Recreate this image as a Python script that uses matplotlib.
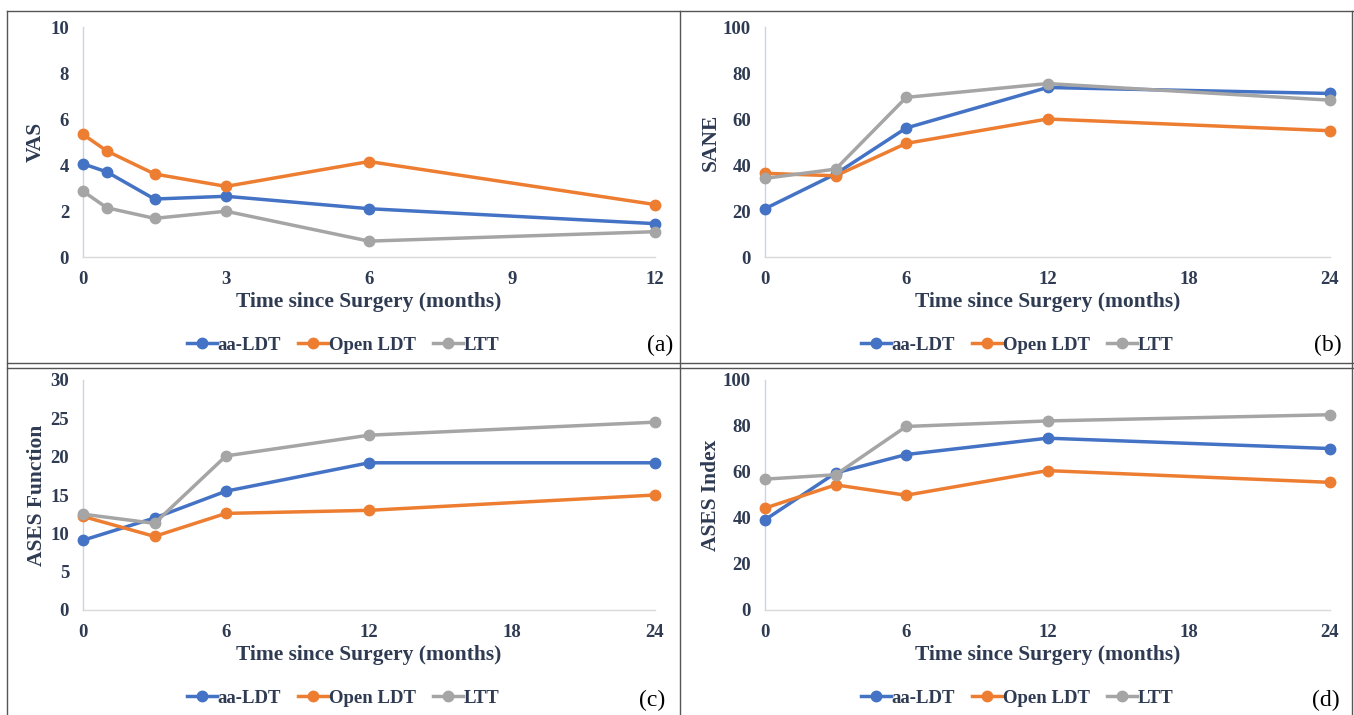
import numpy as np
import matplotlib
matplotlib.use("Agg")
import matplotlib.pyplot as plt
from matplotlib.lines import Line2D

# ---- data ----
series_names = ["aa-LDT", "Open LDT", "LTT"]
colors = ["#4472C4", "#ED7D31", "#A5A5A5"]

vas_time = [0, 0.5, 1.5, 3, 6, 12]
vas_aa = [4.05, 3.70, 2.52, 2.64, 2.10, 1.45]
vas_open = [5.33, 4.61, 3.61, 3.07, 4.15, 2.28]
vas_ltt = [2.86, 2.14, 1.68, 1.99, 0.69, 1.10]

time_24 = [0, 3, 6, 12, 24]
sane_aa = [21.0, 36.1, 56.1, 73.7, 71.1]
sane_open = [36.4, 35.3, 49.4, 60.0, 54.9]
sane_ltt = [34.2, 38.2, 69.4, 75.4, 68.2]

func_aa = [9.1, 12.0, 15.5, 19.2, 19.2]
func_open = [12.2, 9.6, 12.6, 13.0, 15.0]
func_ltt = [12.5, 11.3, 20.1, 22.8, 24.5]

index_aa = [39.2, 59.6, 67.6, 74.7, 70.2]
index_open = [44.3, 54.4, 49.9, 60.6, 55.5]
index_ltt = [56.9, 58.8, 79.8, 82.2, 84.9]

panels = [
    dict(t=vas_time, ys=[vas_aa, vas_open, vas_ltt], ylabel="VAS",
         xticks=[0, 3, 6, 9, 12], yticks=[0, 2, 4, 6, 8, 10], tag="(a)"),
    dict(t=time_24, ys=[sane_aa, sane_open, sane_ltt], ylabel="SANE",
         xticks=[0, 6, 12, 18, 24], yticks=[0, 20, 40, 60, 80, 100], tag="(b)"),
    dict(t=time_24, ys=[func_aa, func_open, func_ltt], ylabel="ASES Function",
         xticks=[0, 6, 12, 18, 24], yticks=[0, 5, 10, 15, 20, 25, 30], tag="(c)"),
    dict(t=time_24, ys=[index_aa, index_open, index_ltt], ylabel="ASES Index",
         xticks=[0, 6, 12, 18, 24], yticks=[0, 20, 40, 60, 80, 100], tag="(d)"),
]

W, H = 1354, 715
txt_col = "#2F3B52"
serif = ["Liberation Serif", "DejaVu Serif"]

fig = plt.figure(figsize=(W / 100, H / 100), dpi=100)

# pixel boxes for axes: (left, right, top, bottom)
boxes = [(83, 655, 27, 257), (765, 1330, 27, 257),
         (83, 655, 380, 610), (765, 1330, 380, 610)]
ylab_x = [36, 711, 37, 711]
legend_pos = [(343, 345), (1017, 345), (343, 698), (1017, 698)]
tag_pos = [(660, 345), (1328, 345), (652, 700), (1326, 700)]

for i, p in enumerate(panels):
    l, r, t, b = boxes[i]
    ax = fig.add_axes([l / W, 1 - b / H, (r - l) / W, (b - t) / H])
    for y, c in zip(p["ys"], colors):
        ax.plot(p["t"], y, color=c, lw=2.5, marker="o", ms=7.5, clip_on=False, zorder=3)
    ax.set_xlim(p["xticks"][0], p["xticks"][-1])
    ax.set_ylim(p["yticks"][0], p["yticks"][-1])
    ax.set_xticks(p["xticks"])
    ax.set_yticks(p["yticks"])
    ax.tick_params(length=0, pad=10, labelsize=13.5, labelcolor=txt_col)
    for lab in ax.get_xticklabels() + ax.get_yticklabels():
        lab.set_fontfamily(serif)
        lab.set_fontweight("bold")
    ax.spines["top"].set_visible(False)
    ax.spines["right"].set_visible(False)
    ax.spines["left"].set_color("#CBD3E3")
    ax.spines["bottom"].set_color("#D9D9D9")
    ax.spines["left"].set_linewidth(1)
    ax.spines["bottom"].set_linewidth(1)

    ax.set_xlabel("Time since Surgery (months)", fontsize=15.5, fontweight="bold",
                  family=serif, color=txt_col, va="center")
    ax.xaxis.set_label_coords(0.5, -(302 - 257) / 230)
    ax.set_ylabel(p["ylabel"], fontsize=15.5, fontweight="bold", family=serif,
                  color=txt_col, va="center")
    ax.yaxis.set_label_coords((ylab_x[i] - l) / (r - l), 0.5)

    handles = [Line2D([], [], color=c, lw=2.5, marker="o", ms=7.5) for c in colors]
    lx, ly = legend_pos[i]
    leg = fig.legend(handles, series_names, loc="center", bbox_to_anchor=(lx / W, 1 - ly / H),
                     ncol=3, frameon=False, handlelength=1.6, handletextpad=0.05,
                     columnspacing=0.9, prop=dict(family=serif, weight="bold", size=13.5))
    for tx in leg.get_texts():
        tx.set_color(txt_col)

    tx, ty = tag_pos[i]
    fig.text(tx / W, 1 - ty / H, p["tag"], ha="center", va="center", fontsize=17,
             family=serif, color="black")

# frame lines around the panels
frame_col = "#555555"
def hline(y, x0, x1):
    fig.add_artist(Line2D([x0 / W, x1 / W], [1 - y / H, 1 - y / H], color=frame_col, lw=1))
def vline(x, y0, y1):
    fig.add_artist(Line2D([x / W, x / W], [1 - y0 / H, 1 - y1 / H], color=frame_col, lw=1))

hline(11, 7, 1353)
hline(363, 7, 1353)
hline(368, 7, 1353)
vline(7, 11, 715)
vline(680, 11, 715)
vline(1352, 11, 715)

fig.savefig("out.png", dpi=100)
